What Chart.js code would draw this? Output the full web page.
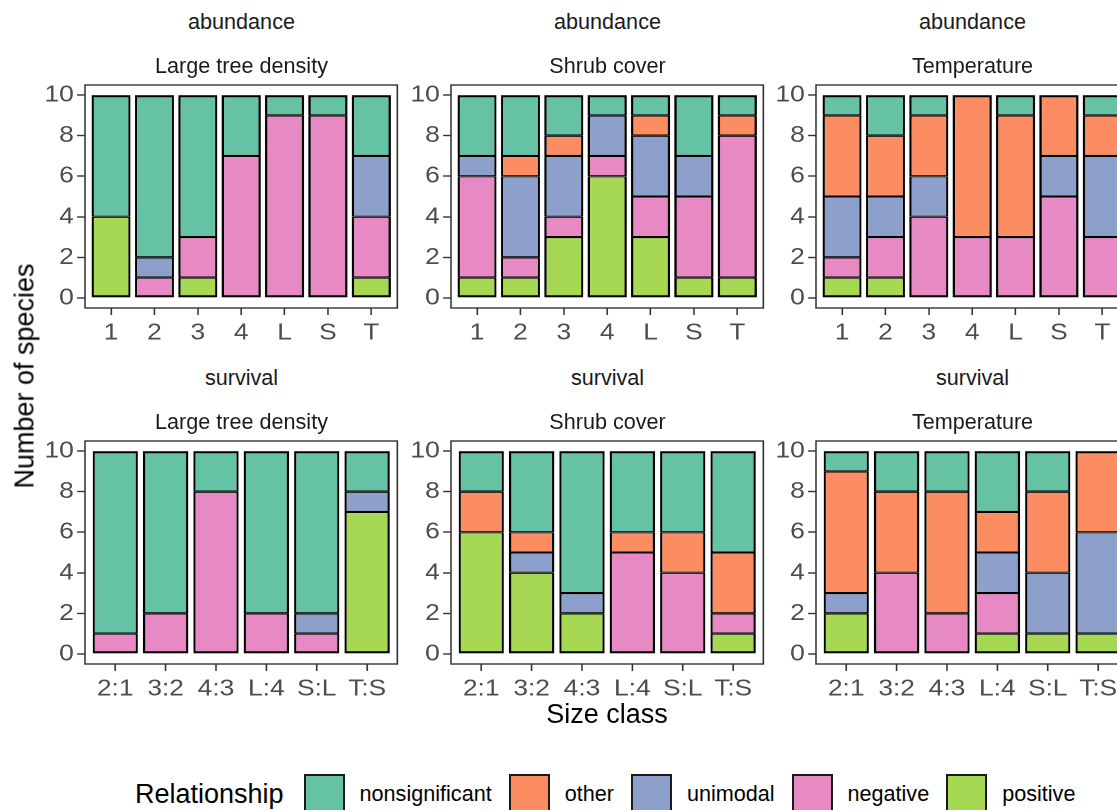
<!DOCTYPE html>
<html>
<head>
<meta charset="utf-8">
<title>Species relationships by size class</title>
<script src="https://cdn.jsdelivr.net/npm/chart.js@4.4.1/dist/chart.umd.min.js"></script>
<style>
  html, body { margin: 0; padding: 0; background: #ffffff; }
  body {
    position: relative; width: 1117px; height: 810px; overflow: hidden;
    font-family: "Liberation Sans", Arial, Helvetica, sans-serif;
  }
  canvas { position: absolute; transform-origin: 0 0; }
  .txt { position: absolute; white-space: nowrap; line-height: 1; }
  #legend {
    position: absolute; left: 135px; top: 774px; height: 40px;
    display: flex; align-items: center; white-space: nowrap;
  }
  #legend .title { font-size: 27px; color: #000; margin-right: 20px; }
  #legend .key { width: 41px; height: 40px; box-sizing: border-box; border: 2px solid #1a1a1a; margin-right: 15px; }
  #legend .name { font-size: 21.6px; color: #000; margin-right: 17px; }
</style>
</head>
<body>
<script>
// ---- categories and tick labels ----
const relationships = ['positive', 'negative', 'unimodal', 'other', 'nonsignificant']; // stacked bottom to top
const legendOrder = ['nonsignificant', 'other', 'unimodal', 'negative', 'positive'];
const abundanceClasses = ['1', '2', '3', '4', 'L', 'S', 'T'];
const survivalClasses = ['2:1', '3:2', '4:3', 'L:4', 'S:L', 'T:S'];
const yTicks = [0, 2, 4, 6, 8, 10];
const responses = ['abundance', 'survival'];
const drivers = ['Large tree density', 'Shrub cover', 'Temperature'];

// ---- number of species per relationship: abundance ----
const abTreePositive = [4, 0, 1, 0, 0, 0, 1];
const abTreeNegative = [0, 1, 2, 7, 9, 9, 3];
const abTreeUnimodal = [0, 1, 0, 0, 0, 0, 3];
const abTreeOther    = [0, 0, 0, 0, 0, 0, 0];
const abTreeNonsig   = [6, 8, 7, 3, 1, 1, 3];

const abShrubPositive = [1, 1, 3, 6, 3, 1, 1];
const abShrubNegative = [5, 1, 1, 1, 2, 4, 7];
const abShrubUnimodal = [1, 4, 3, 2, 3, 2, 0];
const abShrubOther    = [0, 1, 1, 0, 1, 0, 1];
const abShrubNonsig   = [3, 3, 2, 1, 1, 3, 1];

const abTempPositive = [1, 1, 0, 0, 0, 0, 0];
const abTempNegative = [1, 2, 4, 3, 3, 5, 3];
const abTempUnimodal = [3, 2, 2, 0, 0, 2, 4];
const abTempOther    = [4, 3, 3, 7, 6, 3, 2];
const abTempNonsig   = [1, 2, 1, 0, 1, 0, 1];

// ---- number of species per relationship: survival ----
const svTreePositive = [0, 0, 0, 0, 0, 7];
const svTreeNegative = [1, 2, 8, 2, 1, 0];
const svTreeUnimodal = [0, 0, 0, 0, 1, 1];
const svTreeOther    = [0, 0, 0, 0, 0, 0];
const svTreeNonsig   = [9, 8, 2, 8, 8, 2];

const svShrubPositive = [6, 4, 2, 0, 0, 1];
const svShrubNegative = [0, 0, 0, 5, 4, 1];
const svShrubUnimodal = [0, 1, 1, 0, 0, 0];
const svShrubOther    = [2, 1, 0, 1, 2, 3];
const svShrubNonsig   = [2, 4, 7, 4, 4, 5];

const svTempPositive = [2, 0, 0, 1, 1, 1];
const svTempNegative = [0, 4, 2, 2, 0, 0];
const svTempUnimodal = [1, 0, 0, 2, 3, 5];
const svTempOther    = [6, 4, 6, 2, 4, 4];
const svTempNonsig   = [1, 2, 2, 3, 2, 0];

// ---- styling ----
const fills = {
  nonsignificant: '#66C2A5', other: '#FC8D62', unimodal: '#8DA0CB',
  negative: '#E78AC3', positive: '#A6D854'
};
const OUTLINE = 2.3;          // bar outline width
const AXIS_LINE = '#333333';
const TICK_TEXT = '#4D4D4D';
const STRIP_TEXT = '#1A1A1A';
const TICK_SIZE = 23.5;       // axis tick labels
const SMALL = 21.6;           // strip and legend labels
const LARGE = 27;             // axis and legend titles

// ---- facet grid layout (page pixels) ----
const COL_LEFT = [85, 451, 816];
const ROW_TOP = [85, 441];
const PW = 313, PH = 223;     // panel size
const YW = 60, XH = 44, PT = 20, PR = 4;
const WIDEN = 1.12;           // panels are drawn narrow and widened horizontally

Chart.defaults.font.family = '"Liberation Sans", Arial, Helvetica, sans-serif';

// panel frame drawn around the plotting area
const panelFrame = {
  id: 'panelFrame',
  afterDraw(chart) {
    const { ctx, chartArea: a } = chart;
    ctx.save();
    ctx.strokeStyle = AXIS_LINE;
    ctx.lineWidth = 1.4;
    ctx.strokeRect(a.left, a.top, a.right - a.left, a.bottom - a.top);
    ctx.restore();
  }
};

// shared edges between stacked segments get half width so they match the outer outline
function edgeWidths(series, d, i) {
  const below = series.slice(0, d).some(s => s[i] > 0);
  const above = series.slice(d + 1).some(s => s[i] > 0);
  return {
    left: OUTLINE / WIDEN, right: OUTLINE / WIDEN,
    top: above ? OUTLINE / 2 : OUTLINE,
    bottom: below ? OUTLINE / 2 : OUTLINE
  };
}

function addText(text, cx, baseline, size, color) {
  const el = document.createElement('div');
  el.className = 'txt';
  el.textContent = text;
  el.style.fontSize = size + 'px';
  el.style.color = color;
  el.style.top = (baseline - 0.8465 * size) + 'px';
  el.style.left = cx + 'px';
  el.style.transform = 'translateX(-50%)';
  document.body.appendChild(el);
  return el;
}

const panels = [
  { classes: abundanceClasses, row: 0, col: 0,
    series: [abTreePositive, abTreeNegative, abTreeUnimodal, abTreeOther, abTreeNonsig] },
  { classes: abundanceClasses, row: 0, col: 1,
    series: [abShrubPositive, abShrubNegative, abShrubUnimodal, abShrubOther, abShrubNonsig] },
  { classes: abundanceClasses, row: 0, col: 2,
    series: [abTempPositive, abTempNegative, abTempUnimodal, abTempOther, abTempNonsig] },
  { classes: survivalClasses, row: 1, col: 0,
    series: [svTreePositive, svTreeNegative, svTreeUnimodal, svTreeOther, svTreeNonsig] },
  { classes: survivalClasses, row: 1, col: 1,
    series: [svShrubPositive, svShrubNegative, svShrubUnimodal, svShrubOther, svShrubNonsig] },
  { classes: survivalClasses, row: 1, col: 2,
    series: [svTempPositive, svTempNegative, svTempUnimodal, svTempOther, svTempNonsig] }
];

// one canvas per facet, sized before its chart is created
panels.forEach(p => {
  const left = COL_LEFT[p.col], top = ROW_TOP[p.row];
  const canvas = document.createElement('canvas');
  canvas.width = (YW + PW + PR) / WIDEN;
  canvas.height = PT + PH + XH;
  canvas.style.left = (left - YW) + 'px';
  canvas.style.top = (top - PT) + 'px';
  canvas.style.transform = 'scaleX(' + WIDEN + ')';
  document.body.appendChild(canvas);

  const n = p.classes.length;
  const series = p.series;
  const gridOpts = {
    display: true, drawOnChartArea: false, drawTicks: true, offset: false,
    tickLength: 7, tickColor: AXIS_LINE, tickWidth: 1.4
  };

  new Chart(canvas, {
    type: 'bar',
    data: {
      datasets: relationships.map((name, k) => ({
        label: name,
        data: series[k].map((v, i) => ({ x: i + 1, y: v })),
        backgroundColor: fills[name],
        borderColor: '#000000',
        borderSkipped: false,
        borderWidth: ctx => edgeWidths(series, ctx.datasetIndex, ctx.dataIndex),
        barPercentage: 0.9,
        categoryPercentage: 1,
        inflateAmount: 0
      }))
    },
    options: {
      responsive: false,
      animation: false,
      devicePixelRatio: 2,
      layout: { padding: { top: PT, right: PR / WIDEN, bottom: 0, left: 0 } },
      plugins: { legend: { display: false }, tooltip: { enabled: false } },
      scales: {
        x: {
          type: 'linear', stacked: true, offset: false, min: 0.4, max: n + 0.6,
          afterBuildTicks: s => { s.ticks = p.classes.map((c, i) => ({ value: i + 1 })); },
          ticks: {
            callback: v => p.classes[Math.round(v) - 1],
            color: TICK_TEXT, font: { size: TICK_SIZE }, padding: 4,
            maxRotation: 0, autoSkip: false
          },
          grid: gridOpts,
          border: { display: false },
          afterFit: s => { s.height = XH; }
        },
        y: {
          type: 'linear', stacked: true, min: -0.5, max: 10.5,
          afterBuildTicks: s => { s.ticks = yTicks.map(v => ({ value: v })); },
          ticks: { color: TICK_TEXT, font: { size: TICK_SIZE }, padding: 3 },
          grid: gridOpts,
          border: { display: false },
          afterFit: s => { s.width = YW / WIDEN; }
        }
      }
    },
    plugins: [panelFrame]
  });

  const cx = left + PW / 2;
  addText(responses[p.row], cx, top - 55.5, SMALL, STRIP_TEXT);
  addText(drivers[p.col], cx, top - 11.5, SMALL, STRIP_TEXT);
});

// axis titles
addText('Size class', 607, 724, LARGE, '#000000');
const yTitle = document.createElement('div');
yTitle.className = 'txt';
yTitle.textContent = 'Number of species';
yTitle.style.fontSize = LARGE + 'px';
yTitle.style.left = '24.5px';
yTitle.style.top = '376px';
yTitle.style.transform = 'translate(-50%, -50%) rotate(-90deg)';
document.body.appendChild(yTitle);

// legend
const legend = document.createElement('div');
legend.id = 'legend';
const lt = document.createElement('span');
lt.className = 'title';
lt.textContent = 'Relationship';
legend.appendChild(lt);
legendOrder.forEach(name => {
  const key = document.createElement('span');
  key.className = 'key';
  key.style.background = fills[name];
  legend.appendChild(key);
  const lab = document.createElement('span');
  lab.className = 'name';
  lab.textContent = name;
  legend.appendChild(lab);
});
document.body.appendChild(legend);
</script>
</body>
</html>
